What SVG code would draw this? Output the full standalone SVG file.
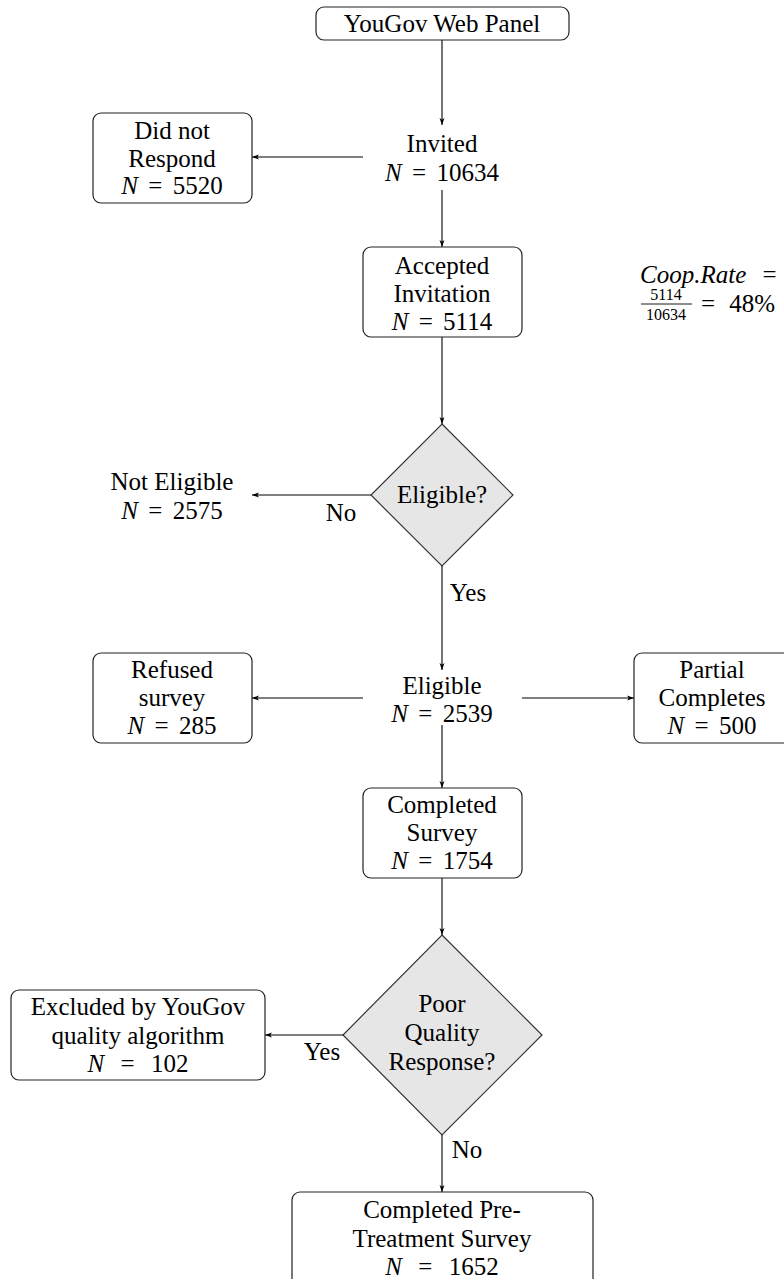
<svg xmlns="http://www.w3.org/2000/svg" width="784" height="1279" viewBox="0 0 784 1279">
<style>
.box{fill:#fff;stroke:#222;stroke-width:1.2}
.dia{fill:#e6e6e6;stroke:#333;stroke-width:1.2}
.t{font-family:"Liberation Serif","DejaVu Serif",serif;font-size:25px;fill:#000;text-anchor:middle}
.i{font-style:italic}
.c{stroke:#000;stroke-width:1.1;fill:none}
.s{font-family:"Liberation Serif",serif;font-size:16px;fill:#000;text-anchor:middle}
</style>
<defs>
<marker id="ah" viewBox="0 0 10 10" refX="10" refY="5" markerWidth="7" markerHeight="7" orient="auto" markerUnits="userSpaceOnUse">
<path d="M0,1.5 L10,5 L0,8.5 L2.5,5 Z" fill="#000"/>
</marker>
</defs>
<rect width="784" height="1279" fill="#fff"/>
<g id="connectors">
<line class="c" x1="442" y1="40" x2="442" y2="125" marker-end="url(#ah)"/>
<line class="c" x1="363" y1="157" x2="252" y2="157" marker-end="url(#ah)"/>
<line class="c" x1="442" y1="190" x2="442" y2="247" marker-end="url(#ah)"/>
<line class="c" x1="442" y1="337" x2="442" y2="424" marker-end="url(#ah)"/>
<line class="c" x1="371" y1="495" x2="252" y2="495" marker-end="url(#ah)"/>
<line class="c" x1="442" y1="566" x2="442" y2="670" marker-end="url(#ah)"/>
<line class="c" x1="363" y1="698" x2="252" y2="698" marker-end="url(#ah)"/>
<line class="c" x1="522" y1="698" x2="634" y2="698" marker-end="url(#ah)"/>
<line class="c" x1="442" y1="725" x2="442" y2="788" marker-end="url(#ah)"/>
<line class="c" x1="442" y1="878" x2="442" y2="935" marker-end="url(#ah)"/>
<line class="c" x1="343" y1="1035" x2="265" y2="1035" marker-end="url(#ah)"/>
<line class="c" x1="442" y1="1135" x2="442" y2="1192" marker-end="url(#ah)"/>
<text class="t" x="341" y="521">No</text>
<text class="t" x="468" y="601">Yes</text>
<text class="t" x="322" y="1060">Yes</text>
<text class="t" x="467" y="1158">No</text>
</g>
<g id="panel">
<rect class="box" x="316" y="7" width="253" height="33" rx="8"/>
<text class="t" x="442" y="32">YouGov Web Panel</text>
</g>
<g id="invited">
<text class="t" x="442" y="152">Invited</text>
<text class="t" x="442" y="181"><tspan class="i">N</tspan> <tspan dx="4">=</tspan> <tspan dx="4">10634</tspan></text>
</g>
<g id="norespond">
<rect class="box" x="93" y="113" width="159" height="90" rx="8"/>
<text class="t" x="172" y="139">Did not</text>
<text class="t" x="172" y="167">Respond</text>
<text class="t" x="172" y="194"><tspan class="i">N</tspan> <tspan dx="4">=</tspan> <tspan dx="4">5520</tspan></text>
</g>
<g id="accepted">
<rect class="box" x="363" y="247" width="159" height="90" rx="8"/>
<text class="t" x="442" y="274">Accepted</text>
<text class="t" x="442" y="302">Invitation</text>
<text class="t" x="442" y="330"><tspan class="i">N</tspan> <tspan dx="4">=</tspan> <tspan dx="4">5114</tspan></text>
</g>
<g id="cooprate">
<text class="t i" x="640" y="283" style="text-anchor:start">Coop.Rate <tspan font-style="normal" dx="10">=</tspan></text>
<text class="s" x="666" y="300">5114</text>
<line x1="641" y1="304" x2="692" y2="304" stroke="#000" stroke-width="0.9"/>
<text class="s" x="666" y="320">10634</text>
<text class="t" x="701" y="312" style="text-anchor:start">= <tspan dx="8">48%</tspan></text>
</g>
<g id="eligibleq">
<polygon class="dia" points="442,424 513,495 442,566 371,495"/>
<text class="t" x="442" y="503">Eligible?</text>
</g>
<g id="noteligible">
<text class="t" x="172" y="490">Not Eligible</text>
<text class="t" x="172" y="519"><tspan class="i">N</tspan> <tspan dx="4">=</tspan> <tspan dx="4">2575</tspan></text>
</g>
<g id="eligible">
<text class="t" x="442" y="694">Eligible</text>
<text class="t" x="442" y="722"><tspan class="i">N</tspan> <tspan dx="4">=</tspan> <tspan dx="4">2539</tspan></text>
</g>
<g id="refused">
<rect class="box" x="93" y="653" width="159" height="90" rx="8"/>
<text class="t" x="172" y="678">Refused</text>
<text class="t" x="172" y="706">survey</text>
<text class="t" x="172" y="734"><tspan class="i">N</tspan> <tspan dx="4">=</tspan> <tspan dx="4">285</tspan></text>
</g>
<g id="partial">
<rect class="box" x="634" y="653" width="170" height="90" rx="8"/>
<text class="t" x="712" y="678">Partial</text>
<text class="t" x="712" y="706">Completes</text>
<text class="t" x="712" y="734"><tspan class="i">N</tspan> <tspan dx="4">=</tspan> <tspan dx="4">500</tspan></text>
</g>
<g id="completed">
<rect class="box" x="363" y="788" width="159" height="90" rx="8"/>
<text class="t" x="442" y="813">Completed</text>
<text class="t" x="442" y="841">Survey</text>
<text class="t" x="442" y="869"><tspan class="i">N</tspan> <tspan dx="4">=</tspan> <tspan dx="4">1754</tspan></text>
</g>
<g id="poorq">
<polygon class="dia" points="442,935 542,1035 442,1135 343,1035"/>
<text class="t" x="442" y="1012">Poor</text>
<text class="t" x="442" y="1041">Quality</text>
<text class="t" x="442" y="1070">Response?</text>
</g>
<g id="excluded">
<rect class="box" x="11" y="990" width="254" height="90" rx="8"/>
<text class="t" x="138" y="1015">Excluded by YouGov</text>
<text class="t" x="138" y="1044">quality algorithm</text>
<text class="t" x="138" y="1072"><tspan class="i">N</tspan> <tspan dx="10">=</tspan> <tspan dx="10">102</tspan></text>
</g>
<g id="final">
<rect class="box" x="292" y="1192" width="301" height="100" rx="8"/>
<text class="t" x="442" y="1218">Completed Pre-</text>
<text class="t" x="442" y="1247">Treatment Survey</text>
<text class="t" x="442" y="1275"><tspan class="i">N</tspan> <tspan dx="10">=</tspan> <tspan dx="10">1652</tspan></text>
</g>
</svg>
